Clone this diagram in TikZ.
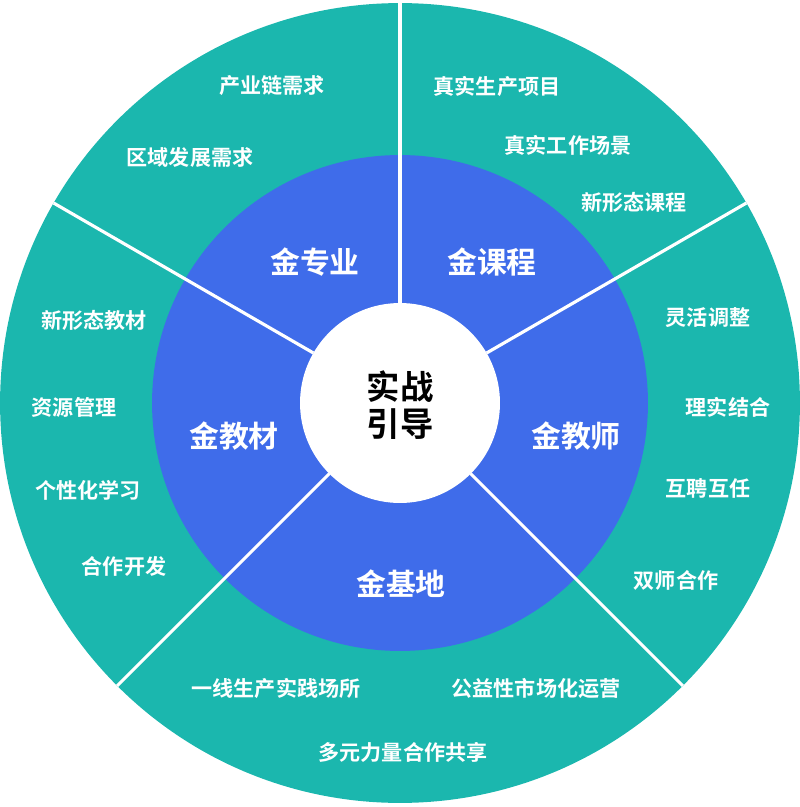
\documentclass[tikz,border=0pt]{standalone}
\usepackage{fontspec}
\usetikzlibrary{calc}
\setmainfont{Noto Sans CJK SC}[BoldFont={Noto Sans CJK SC Bold}]
\definecolor{teal1}{HTML}{1BB7AE}
\definecolor{blue1}{HTML}{3F6CEA}
\begin{document}
\begin{tikzpicture}[x=0.02cm,y=-0.02cm,
  outer/.style={text=white,font=\fontsize{12}{14}\selectfont\bfseries},
  mid/.style={text=white,font=\fontsize{17}{20}\selectfont\bfseries},
  ctr/.style={text=black,font=\fontsize{19}{23}\selectfont\bfseries,align=center},
  sep/.style={white,line width=1.8pt}]
\useasboundingbox (0,0) rectangle (800,807);
\coordinate (c) at (400,403);
\fill[teal1] (c) circle[radius=8cm];
\fill[blue1] (c) circle[radius=4.96cm];
\foreach \a in {90,30,-45,-135,150}
  \draw[sep] ($(c)+(\a:2cm)$) -- ($(c)+(\a:8cm)$);
\fill[white] (c) circle[radius=2cm];
\node[ctr] (center) at (400,405) {实战\\[-2pt]引导};
\node[mid] (m1) at (315,262) {金专业};
\node[mid] (m2) at (492,262) {金课程};
\node[mid] (m3) at (234,436) {金教材};
\node[mid] (m4) at (576,436) {金教师};
\node[mid] (m5) at (401,584) {金基地};
\node[outer] (o1) at (272,86) {产业链需求};
\node[outer] (o2) at (190,157) {区域发展需求};
\node[outer] (o3) at (497,86) {真实生产项目};
\node[outer] (o4) at (568,145) {真实工作场景};
\node[outer] (o5) at (634,202) {新形态课程};
\node[outer] (o6) at (708,318) {灵活调整};
\node[outer] (o7) at (728,407) {理实结合};
\node[outer] (o8) at (708,488) {互聘互任};
\node[outer] (o9) at (676,580) {双师合作};
\node[outer] (o10) at (536,688) {公益性市场化运营};
\node[outer] (o11) at (276,688) {一线生产实践场所};
\node[outer] (o12) at (403,752) {多元力量合作共享};
\node[outer] (o13) at (94,320) {新形态教材};
\node[outer] (o14) at (74,407) {资源管理};
\node[outer] (o15) at (88,490) {个性化学习};
\node[outer] (o16) at (124,566) {合作开发};
\end{tikzpicture}
\end{document}
